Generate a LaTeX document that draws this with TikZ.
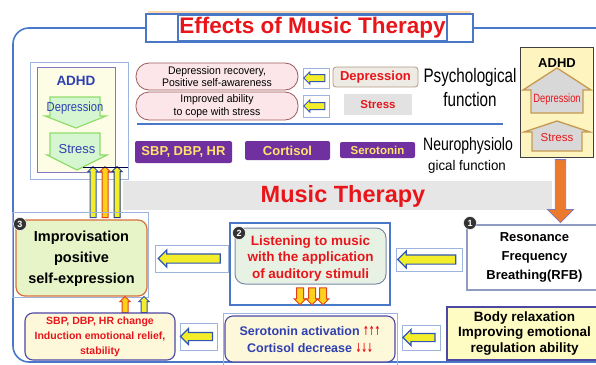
\documentclass[tikz,border=0pt]{standalone}
\usepackage{graphicx}
\usepackage{fontspec}
\setmainfont{Liberation Sans}
\newfontfamily\nsA{Liberation Sans}[FakeStretch=0.78]
\newfontfamily\nsB{Liberation Sans}[FakeStretch=0.86]
\newfontfamily\nsC{Liberation Sans}[FakeStretch=0.95]
\newfontfamily\dvs{DejaVu Sans}
\usetikzlibrary{shapes.arrows}
\newcommand\myfs[2]{\fontsize{#1}{#2}\selectfont}
\definecolor{frameblue}{HTML}{4A78C8}
\definecolor{tred}{HTML}{E8161B}
\definecolor{purp}{HTML}{7030A0}
\definecolor{ptxt}{HTML}{FFE36E}
\definecolor{pinkfill}{HTML}{FCE6EA}
\definecolor{pinkdraw}{HTML}{9C5A5A}
\definecolor{arrblue}{HTML}{2F55B5}
\definecolor{arryel}{HTML}{F4EE2A}
\definecolor{boxblue}{HTML}{9DB5DE}
\definecolor{greenfill}{HTML}{D6F6D2}
\definecolor{greendraw}{HTML}{8EDD6A}
\definecolor{adhdfill}{HTML}{FDF4C0}
\definecolor{ltyel}{HTML}{FDFDE6}
\definecolor{housefill}{HTML}{D8D8D8}
\definecolor{housedraw}{HTML}{C89A50}
\definecolor{orng}{HTML}{EC7A2C}
\definecolor{impfill}{HTML}{E6F4C8}
\definecolor{impdraw}{HTML}{D8703A}
\definecolor{lisfill}{HTML}{E8F2E4}
\definecolor{lisdraw}{HTML}{7A89AA}
\definecolor{creamfill}{HTML}{FDF8DA}
\definecolor{dkblue}{HTML}{4B47A2}
\definecolor{rfbdraw}{HTML}{8E9BC2}
\definecolor{bandgray}{HTML}{E6E6E6}
\definecolor{txtblue}{HTML}{2F3FB0}
\definecolor{depfill}{HTML}{EEEAE4}
\definecolor{depdraw}{HTML}{B09A80}
\definecolor{lightpurp}{HTML}{8078C0}
\definecolor{dnred}{HTML}{E0401A}
\definecolor{dnyel}{HTML}{FFD21A}
\definecolor{stressgray}{HTML}{E2E2E2}
\begin{document}
\begin{tikzpicture}[x=1pt,y=-1pt,
  every node/.style={inner sep=0pt, outer sep=0pt},
  arrbox/.style={draw=boxblue, line width=0.8pt},
  fatL/.style={single arrow, rotate=180, draw=arrblue, fill=arryel, line width=1.2pt, inner ysep=4pt, minimum width=16pt, single arrow head extend=4pt},
  vup/.style={single arrow, rotate=90, fill=arryel, line width=1pt, inner ysep=2.5pt, minimum width=10pt, single arrow head extend=2.2pt},
  vdown/.style={single arrow, rotate=-90, draw=dnred, fill=dnyel, line width=1pt, inner ysep=3pt, minimum width=12pt, single arrow head extend=2.5pt},
  pill/.style={draw=pinkdraw, fill=pinkfill, rounded corners=13pt, line width=0.8pt, align=center, font=\nsC\myfs{11}{12.5}},
  purpbox/.style={fill=purp, rounded corners=2pt, text=ptxt},
  badge/.style={circle, fill=black!80, draw=white, line width=0.5pt, text=white, font=\myfs{9}{9}\bfseries, minimum size=13pt},
  house/.style={draw=housedraw, fill=housefill, line width=1.3pt},
  greenarr/.style={draw=greendraw, fill=greenfill, line width=1.2pt},
]
\useasboundingbox (0,0) rectangle (596,364);
\begin{scope}
\clip (0,0) rectangle (596,364);
% main frame
\draw[frameblue, line width=1.6pt, rounded corners=16pt] (13,28) rectangle (640,362);
% title
\draw[orange!30, line width=3pt] (148,12.3) -- (471,12.3);
\node[draw=frameblue, fill=white, line width=1.5pt, minimum width=327pt, minimum height=28pt] (tbox) at (309.5,28) {};
\node[draw=frameblue, line width=1.2pt, minimum width=269pt, minimum height=26pt, text=tred, font=\myfs{22.5}{24}\bfseries] (title) at (312.5,28) {Effects of Music Therapy};
% band
\fill[bandgray] (123,181) rectangle (552,210);
\node[font=\myfs{23.5}{26}\bfseries, text=tred] (mt) at (343,196) {Music Therapy};

% left ADHD
\node[draw=boxblue, line width=0.8pt, minimum width=98pt, minimum height=117pt] (adhdLo) at (79,120.5) {};
\node[draw=lightpurp, fill=ltyel, line width=1pt, minimum width=78pt, minimum height=105pt] (adhdL) at (76,119.5) {};
\node[font=\myfs{13.5}{15}\bfseries, text=txtblue] (adhdLt) at (76,81) {ADHD};
\draw[greenarr] (50,97) -- (100,97) -- (100,116) -- (106,116) -- (76,128) -- (45,116) -- (50,116) -- cycle;
\draw[greenarr] (50,133) -- (100,133) -- (100,155) -- (107,155) -- (77,170) -- (47,155) -- (50,155) -- cycle;
\node[font=\nsB\myfs{13}{14}, text=txtblue] (depL) at (75,108) {Depression};
\node[font=\myfs{13}{14}, text=txtblue] (strL) at (77,149) {Stress};

% three up arrows
\coordinate (u1) at (93,193.5);
\coordinate (u2) at (105,193.5);
\coordinate (u3) at (117,193.5);
\node[vup, draw=arrblue, minimum height=51pt] (up1) at (u1) {};
\node[vup, draw=dnred, fill=dnyel, minimum height=51pt] (up2) at (u2) {};
\node[vup, draw=arrblue!70!black, minimum height=51pt] (up3) at (u3) {};
\draw[black!70!blue, line width=0.8pt] (83,167) -- (128,167);

% pills
\node[pill, minimum width=162pt, minimum height=27pt] (p1) at (217,76.5) {Depression recovery,\\Positive self-awareness};
\node[pill, minimum width=162pt, minimum height=28pt] (p2) at (217,106) {Improved ability\\to cope with stress};
% psych arrows
\node[arrbox, minimum width=26pt, minimum height=20pt] (pb1) at (316,78) {};
\node[fatL, line width=1pt, inner ysep=3pt, minimum height=21pt, minimum width=12pt, single arrow head extend=2.5pt] (pa1) at (pb1) {};
\node[arrbox, minimum width=26pt, minimum height=22pt] (pb2) at (316,106) {};
\node[fatL, line width=1pt, inner ysep=3pt, minimum height=21pt, minimum width=12pt, single arrow head extend=2.5pt] (pa2) at (pb2) {};
\node[draw=depdraw, fill=depfill, rounded corners=3pt, line width=0.8pt, minimum width=85pt, minimum height=20pt, text=tred, font=\myfs{13}{14}\bfseries] (dep) at (375.5,77) {Depression};
\node[fill=stressgray, minimum width=68pt, minimum height=21pt, text=tred, font=\myfs{11.5}{12}\bfseries] (str) at (378,104.5) {Stress};
\node[font=\nsA\myfs{19.5}{22}] (psy1) at (470,77.5) {Psychological};
\node[font=\nsA\myfs{19.5}{22}] (psy2) at (470,100) {function};
\draw[frameblue, line width=1.5pt] (137,124) -- (503,124);

% purple boxes
\node[purpbox, minimum width=97pt, minimum height=22pt, font=\myfs{13}{14}\bfseries] (sbp) at (183.5,152) {SBP, DBP, HR};
\node[purpbox, minimum width=85pt, minimum height=19pt, font=\myfs{13}{14}\bfseries] (cort) at (287.5,150.5) {Cortisol};
\node[purpbox, minimum width=75pt, minimum height=16pt, font=\myfs{11.5}{12}\bfseries] (sero) at (377.5,150) {Serotonin};
\node[font=\nsA\myfs{18}{20}] (neu1) at (468,146) {Neurophysiolo};
\node[font=\nsC\myfs{14}{16}] (neu2) at (467,167) {gical function};

% right ADHD
\node[draw=black!75, fill=adhdfill, line width=1pt, minimum width=73pt, minimum height=110pt] (adhdR) at (556.5,102) {};
\node[font=\myfs{13}{14}\bfseries] (adhdRt) at (557,63) {ADHD};
\draw[house] (557,68) -- (591,90) -- (583,90) -- (583,113) -- (531,113) -- (531,90) -- (523,90) -- cycle;
\draw[house] (557,121) -- (590,132) -- (582,132) -- (582,151) -- (532,151) -- (532,132) -- (524,132) -- cycle;
\node[font=\nsA\myfs{12}{13}, text=tred] (depR) at (557,99) {Depression};
\node[font=\myfs{11.5}{13}, text=tred] (strR) at (557,138) {Stress};

% RFB
\node[draw=rfbdraw, fill=white, line width=1.2pt, minimum width=135pt, minimum height=65pt, align=center, font=\myfs{13}{19}\bfseries] (rfb) at (534.5,257.5) {Resonance\\Frequency\\Breathing(RFB)};
\node[badge] (b1) at (470,223) {1};
\coordinate (oc) at (560.5,188.5);
\node[single arrow, rotate=-90, draw=lightpurp, fill=orng, line width=0.8pt, inner ysep=4.8pt, minimum width=25pt, single arrow head extend=8pt, minimum height=63pt] (oarr) at (oc) {};

% Listening
\node[draw=frameblue, line width=1.5pt, minimum width=160pt, minimum height=82pt] (lisout) at (310,264) {};
\node[draw=lisdraw, fill=lisfill, rounded corners=10pt, line width=1pt, minimum width=151pt, minimum height=56pt, align=center, text=tred, font=\myfs{13.5}{16.5}\bfseries] (lis) at (310.5,256) {\rule{0pt}{14pt}Listening to music\\with the application\\of auditory stimuli};
\node[badge] (b2) at (239,233) {2};
\coordinate (d1) at (300,294.5);
\coordinate (d2) at (312,294.5);
\coordinate (d3) at (323,294.5);
\node[vdown, minimum height=17pt] (dn1) at (d1) {};
\node[vdown, minimum height=17pt] (dn2) at (d2) {};
\node[vdown, minimum height=17pt] (dn3) at (d3) {};

% Improvisation
\node[draw=boxblue, line width=0.8pt, minimum width=136pt, minimum height=85pt] (impout) at (80,254.5) {};
\node[draw=impdraw, fill=impfill, rounded corners=9pt, line width=1.2pt, minimum width=131pt, minimum height=76pt, align=center, font=\myfs{14.5}{21}\bfseries] (imp) at (81.5,258) {\rule{0pt}{12pt}Improvisation\\positive\\self-expression};
\node[badge] (b3) at (20,224) {3};

% arrows between top row
\node[arrbox, minimum width=66pt, minimum height=23pt] (ab1) at (429,259.5) {};
\node[fatL, minimum height=58pt] (a1) at (ab1) {};
\node[arrbox, minimum width=73pt, minimum height=27pt] (ab2) at (191.5,258.5) {};
\node[fatL, minimum height=62pt] (a2) at (ab2) {};

% small up arrows under Improvisation
\coordinate (s1) at (125,306);
\coordinate (s2) at (144,306);
\node[vup, draw=dnred, fill=dnyel, minimum height=16pt] (su1) at (s1) {};
\node[vup, draw=arrblue, minimum height=16pt] (su2) at (s2) {};

% bottom row
\node[draw=dkblue, fill=creamfill, rounded corners=8pt, line width=1.1pt, minimum width=150pt, minimum height=47pt, align=center, text=tred, font=\myfs{10.5}{15}\bfseries] (bl) at (100,336.5) {SBP, DBP, HR change\\Induction emotional relief,\\stability};
\node[draw=boxblue, line width=0.8pt, minimum width=174pt, minimum height=55pt] (serout) at (310,340.5) {};
\node[draw=dkblue, fill=creamfill, rounded corners=8pt, line width=1.1pt, minimum width=170pt, minimum height=46pt, align=center, text=txtblue, font=\myfs{12.5}{17}\bfseries] (ser) at (310,339) {Serotonin activation {\color{tred}\dvs\scalebox{0.55}[1]{↑↑↑}}\\Cortisol decrease {\color{tred}\dvs\scalebox{0.55}[1]{↓↓↓}}};
\node[draw=dkblue, fill=creamfill!70!yellow!60!white, line width=1.2pt, minimum width=155pt, minimum height=53pt, align=center, font=\myfs{13.5}{15.5}\bfseries] (body) at (524.5,333.5) {Body relaxation\\Improving emotional\\regulation ability};
\node[arrbox, minimum width=38pt, minimum height=25pt] (ab3) at (421,337.5) {};
\node[fatL, inner ysep=3.5pt, minimum height=32pt, minimum width=15pt] (a3) at (ab3) {};
\node[arrbox, minimum width=37pt, minimum height=27pt] (ab4) at (198.5,336.5) {};
\node[fatL, inner ysep=3.5pt, minimum height=32pt, minimum width=15pt] (a4) at (ab4) {};
\end{scope}
\end{tikzpicture}
\end{document}
